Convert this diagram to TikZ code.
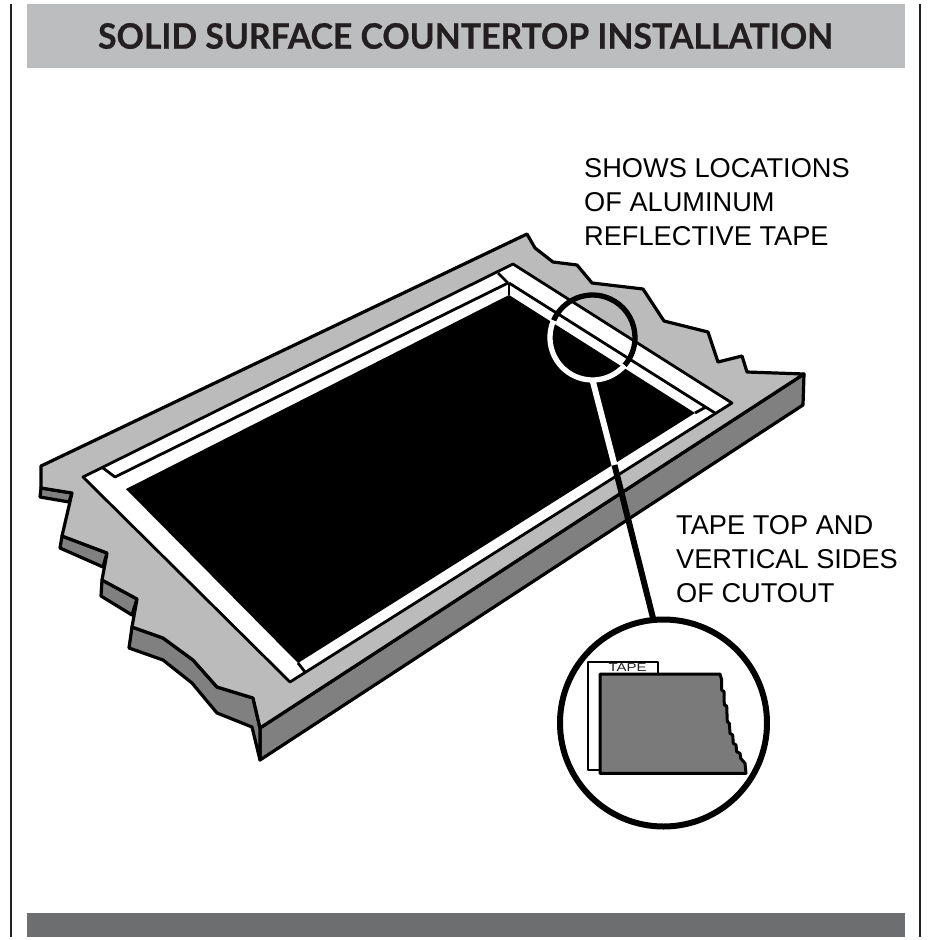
\documentclass[tikz,border=0pt]{standalone}
\usepackage{fontspec}
\setmainfont{Liberation Sans}
\newfontfamily\titlefont[FakeStretch=0.965,BoldFeatures={FakeBold=0.6}]{Lato}
\usetikzlibrary{arrows,shapes}

\definecolor{barlight}{HTML}{BCBDBF}
\definecolor{bardark}{HTML}{6D6E70}
\definecolor{topgray}{HTML}{BBBBBB}
\definecolor{sidegray}{HTML}{808080}
\definecolor{inkblack}{HTML}{231F20}

\begin{document}
\begin{tikzpicture}[x=1pt,y=-1pt,line join=round,
outline/.style={draw=black,line width=3.2pt},
thinline/.style={draw=black,line width=2.8pt},
note/.style={font=\fontsize{27.2}{34}\selectfont,text=black,align=left,anchor=west,inner sep=0pt}]

\useasboundingbox (0,0) rectangle (928,940);
\fill[white] (0,0) rectangle (928,940);

% bars and page rules
\fill[barlight] (27,4) rectangle (905,68);
\fill[bardark] (27,913) rectangle (905,937);
\draw[line width=1.5pt,inkblack] (11,4) -- (11,937);
\draw[line width=1.5pt,inkblack] (920,4) -- (920,937);
\node[font=\titlefont\bfseries\fontsize{35}{40}\selectfont,text=inkblack,inner sep=0pt] (title) at (465.5,36) {SOLID SURFACE COUNTERTOP INSTALLATION};

% counter edge
\path[outline,fill=sidegray] (260,728) -- (804,374) -- (803,405) -- (260,760) -- cycle;
\path[outline,fill=sidegray] (253,698) -- (217,687) -- (193,660) -- (163,638) -- (132,627) -- (129,648) -- (163,660) -- (192,683) -- (217,713) -- (252,727) -- (260,760) -- (260,728) -- cycle;
\path[outline,fill=sidegray] (41,488) -- (72,493) -- (69,502) -- (40,497) -- cycle;
\path[outline,fill=sidegray] (62,536) -- (107,553) -- (103,567) -- (60,548) -- cycle;
\path[outline,fill=sidegray] (102,580) -- (137,599) -- (132,615) -- (101,596) -- cycle;

% counter top
\path[outline,fill=topgray] (41,466) -- (527,234) -- (535,248) -- (553,262) -- (577,265) -- (592,283) -- (643,289) -- (664,321) -- (708,332) -- (718,362) -- (742,356) -- (747,372) -- (804,374) -- (260,728) -- (253,698) -- (217,687) -- (193,660) -- (163,638) -- (132,627) -- (137,599) -- (102,580) -- (107,553) -- (62,536) -- (72,493) -- (41,488) -- cycle;

% tape and cutout
\path[thinline,fill=white] (83,477) -- (513,264) -- (732,403) -- (290,682) -- cycle;
\path[fill=black] (126,489) -- (509,295) -- (695,413) -- (298,663) -- cycle;
\draw[thinline] (103,468) -- (115,477) -- (508,283);
\draw[thinline] (498,273) -- (508,283);
\draw[thinline] (509,283) -- (715,413);
\draw[thinline] (509,283) -- (509,295);
\draw[thinline] (695,413) -- (706,407);
\draw[thinline] (298,663) -- (305,672);

% circles and leader
\node[circle,minimum size=85pt,inner sep=0pt,outer sep=0pt] (lens) at (592.5,337.5) {};
\node[circle,draw=black,line width=6pt,minimum size=207pt,inner sep=0pt,outer sep=0pt] (detail) at (663.5,723) {};
\coordinate (leadturn) at (614.5,465);
\coordinate (leadend) at (653.5,620);
\draw[black,line width=5.3pt] (592.5,337.5) ++(203.6:42.5) arc[start angle=203.6,end angle=401,radius=42.5];
\draw[white,line width=5.3pt] (592.5,337.5) ++(41:42.5) arc[start angle=41,end angle=203.6,radius=42.5];
\draw[white,line width=6pt] (lens.south) -- (leadturn);
\draw[black,line width=6pt] (leadturn) -- (leadend);

% inset
\path[draw=black,line width=2.2pt,fill=white] (588,662) rectangle (658,770);
\node[font=\fontsize{11.5}{12}\selectfont,text=inkblack,inner sep=0pt] (tapelabel) at (627.5,668) {\scalebox{1.3}[1]{TAPE}};
\path[draw=black,line width=3pt,fill=sidegray!95!black] (600,674) -- (720,674) -- (721.7,680) -- (721.7,690) -- (724,691.7) -- (724.3,705) -- (726.7,706) -- (727.3,721.7) -- (729.3,723.3) -- (730,733.3) -- (732.7,735) -- (733.3,743.3) -- (736,745) -- (736.7,751.7) -- (740,753.3) -- (740.7,758.3) -- (745,763.3) -- (746,773.3) -- (600,773.3) -- cycle;

% notes
\node[note] (shownote) at (584,202) {SHOWS LOCATIONS\\OF ALUMINUM\\REFLECTIVE TAPE};
\node[note] (cutnote) at (676,559) {TAPE TOP AND\\VERTICAL SIDES\\OF CUTOUT};
\end{tikzpicture}
\end{document}
